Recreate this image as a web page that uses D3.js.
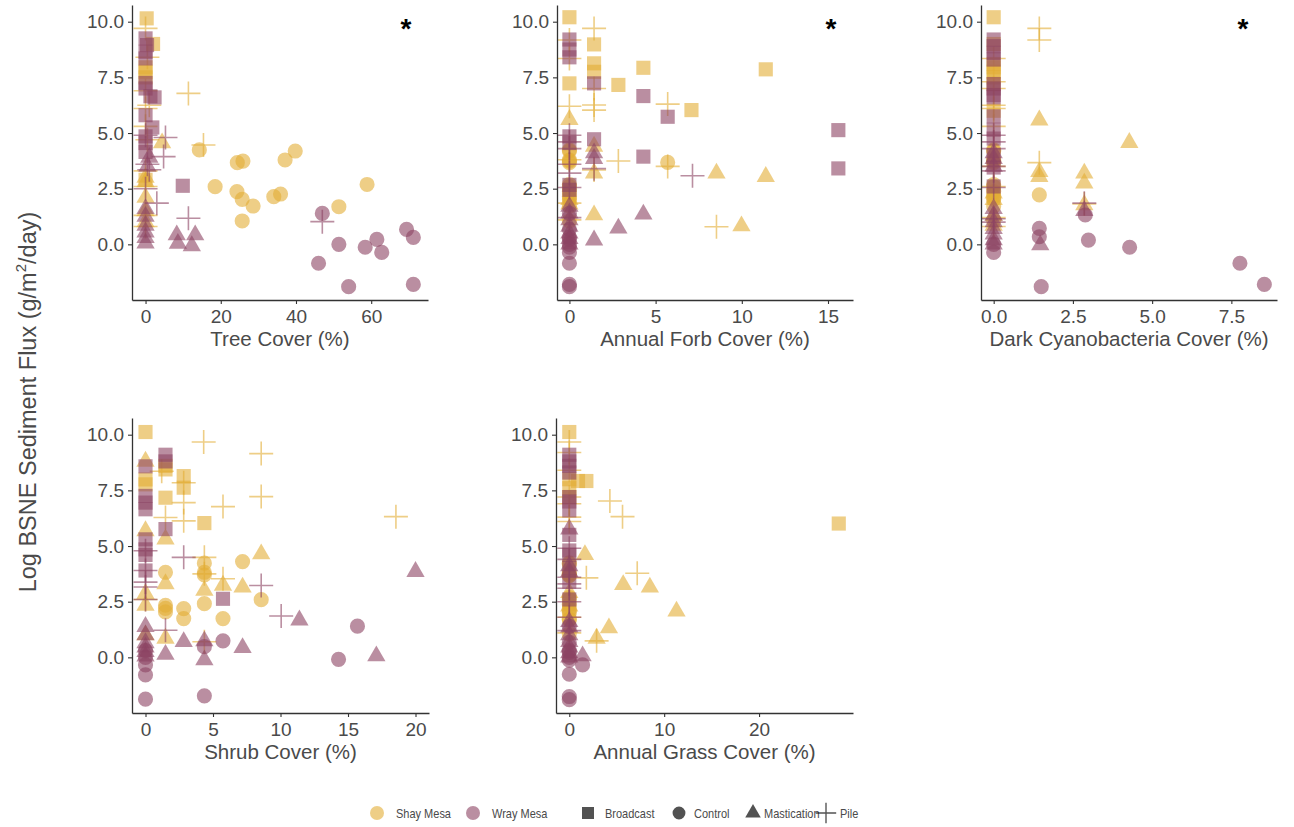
<!DOCTYPE html>
<html>
<head>
<meta charset="utf-8">
<script src="https://cdn.jsdelivr.net/npm/d3@7"></script>
<style>
  body { margin: 0; background: #fff; }
  svg { display: block; font-family: "Liberation Sans", Arial, sans-serif; }
</style>
</head>
<body>
<svg id="chart" width="1294" height="827"></svg>
<script>
// Each record: [cover %, log BSNE sediment flux, site (S = Shay Mesa, W = Wray Mesa), treatment]
// Treatment codes: B = Broadcast, C = Control, M = Mastication, P = Pile

const treeCover = [
  [0.3,10.15,"S","B"],[2.0,9.0,"S","B"],[0,7.95,"S","B"],[0,7.75,"S","B"],[0,7.5,"S","B"],[0,2.9,"S","B"],
  [0,9.7,"S","P"],[0.5,8.4,"S","P"],[0,6.9,"S","P"],[1,6.25,"S","P"],[0,6.1,"S","P"],[0,5.3,"S","P"],[0.5,4.7,"S","P"],
  [0,3.3,"S","P"],[0,2.6,"S","P"],[0,1.3,"S","P"],[0,0.8,"S","P"],[11.4,6.78,"S","P"],[15.4,4.46,"S","P"],
  [4.4,4.55,"S","M"],[0,3.0,"S","M"],[0,2.8,"S","M"],[0,2.1,"S","M"],[0,1.5,"S","M"],[0,1.0,"S","M"],
  [14.3,4.24,"S","C"],[18.5,2.59,"S","C"],[24.4,3.67,"S","C"],[25.9,3.74,"S","C"],[24.3,2.37,"S","C"],
  [25.7,2.02,"S","C"],[28.6,1.72,"S","C"],[25.7,1.05,"S","C"],[34.1,2.14,"S","C"],[35.9,2.26,"S","C"],
  [37.1,3.79,"S","C"],[39.8,4.19,"S","C"],[58.9,2.69,"S","C"],[51.4,1.69,"S","C"],
  [0,9.25,"W","B"],[0.4,8.95,"W","B"],[0,8.65,"W","B"],[0,8.35,"W","B"],[0,7.25,"W","B"],[0,7.0,"W","B"],
  [1.3,6.65,"W","B"],[2.4,6.6,"W","B"],[0,5.8,"W","B"],[1.8,5.25,"W","B"],[0,4.85,"W","B"],[0,4.55,"W","B"],
  [0,4.15,"W","B"],[9.9,2.63,"W","B"],
  [0,4.9,"W","P"],[0.5,3.6,"W","P"],[1,3.35,"W","P"],[0,2.5,"W","P"],[3,1.85,"W","P"],[5.3,4.8,"W","P"],
  [4.8,3.94,"W","P"],[11.4,1.17,"W","P"],[47,1.02,"W","P"],
  [1,3.9,"W","M"],[0.5,3.5,"W","M"],[0,1.6,"W","M"],[0,1.25,"W","M"],[0,0.85,"W","M"],[0,0.55,"W","M"],
  [0,0.3,"W","M"],[0,0.05,"W","M"],[8.3,0.42,"W","M"],[8.6,0.04,"W","M"],[13.2,0.42,"W","M"],[12.3,-0.07,"W","M"],
  [47.0,1.39,"W","C"],[46.0,-0.85,"W","C"],[51.4,0.0,"W","C"],[54.0,-1.9,"W","C"],[58.4,-0.13,"W","C"],
  [61.5,0.22,"W","C"],[62.8,-0.36,"W","C"],[69.4,0.67,"W","C"],[71.2,0.31,"W","C"],[71.2,-1.8,"W","C"]
];

const forbCover = [
  [0,10.2,"S","B"],[1.43,8.98,"S","B"],[1.43,8.13,"S","B"],[1.43,7.75,"S","B"],[2.84,7.16,"S","B"],
  [4.29,7.93,"S","B"],[7.08,6.03,"S","B"],[11.39,7.86,"S","B"],[0,7.23,"S","B"],[0,2.2,"S","B"],
  [1.43,9.7,"S","P"],[0,9.18,"S","P"],[0,8.35,"S","P"],[1.43,7.0,"S","P"],[1.43,6.26,"S","P"],[1.43,6.03,"S","P"],
  [0,6.2,"S","P"],[5.7,6.3,"S","P"],[2.84,3.74,"S","P"],[5.7,3.5,"S","P"],[1.43,3.34,"S","P"],[8.53,0.79,"S","P"],
  [0,3.8,"S","P"],[0,1.85,"S","P"],[0,1.1,"S","P"],
  [0,5.6,"S","M"],[1.43,4.4,"S","M"],[1.43,3.2,"S","M"],[8.53,3.19,"S","M"],[11.39,3.04,"S","M"],
  [1.43,1.32,"S","M"],[9.98,0.82,"S","M"],[0,2.0,"S","M"],[0,1.8,"S","M"],
  [5.7,3.68,"S","C"],[0,4.24,"S","C"],[0,4.19,"S","C"],[0,3.79,"S","C"],[0,3.74,"S","C"],[0,3.67,"S","C"],
  [0,2.69,"S","C"],[0,2.59,"S","C"],[0,2.37,"S","C"],[0,2.14,"S","C"],[0,2.02,"S","C"],[0,1.72,"S","C"],[0,1.05,"S","C"],
  [0,9.2,"W","B"],[0,8.75,"W","B"],[0,8.4,"W","B"],[1.43,7.23,"W","B"],[4.29,6.66,"W","B"],[5.7,5.73,"W","B"],
  [15.6,5.13,"W","B"],[15.6,3.41,"W","B"],[1.43,4.72,"W","B"],[4.29,3.94,"W","B"],[0,4.85,"W","B"],
  [0,4.55,"W","B"],[0,2.67,"W","B"],[0,2.45,"W","B"],
  [0,4.9,"W","P"],[0,4.6,"W","P"],[0,4.3,"W","P"],[0,3.6,"W","P"],[0,3.2,"W","P"],[1.43,3.4,"W","P"],
  [7.14,3.08,"W","P"],[0,2.55,"W","P"],[0,1.2,"W","P"],
  [1.43,4.1,"W","M"],[1.43,3.85,"W","M"],[2.84,0.72,"W","M"],[4.29,1.35,"W","M"],[1.43,0.19,"W","M"],
  [0,1.7,"W","M"],[0,1.4,"W","M"],[0,1.1,"W","M"],[0,0.8,"W","M"],[0,0.5,"W","M"],[0,0.25,"W","M"],[0,0.0,"W","M"],
  [0,1.39,"W","C"],[0,0.67,"W","C"],[0,0.31,"W","C"],[0,0.22,"W","C"],[0,0.0,"W","C"],[0,-0.13,"W","C"],
  [0,-0.36,"W","C"],[0,-0.85,"W","C"],[0,-1.8,"W","C"],[0,-1.9,"W","C"]
];

const cyanoCover = [
  [0,10.2,"S","B"],[0,9.0,"S","B"],[0,8.1,"S","B"],[0,7.95,"S","B"],[0,7.75,"S","B"],[0,7.5,"S","B"],
  [0,7.2,"S","B"],[0,6.0,"S","B"],[0,2.2,"S","B"],
  [1.44,9.7,"S","P"],[1.44,9.18,"S","P"],[0,8.35,"S","P"],[0,7.3,"S","P"],[0,7.0,"S","P"],[0,6.25,"S","P"],
  [0,6.1,"S","P"],[0,5.3,"S","P"],[1.44,3.67,"S","P"],[0,3.5,"S","P"],[0,2.6,"S","P"],[2.86,1.81,"S","P"],
  [0,1.2,"S","P"],[0,0.8,"S","P"],
  [1.44,5.58,"S","M"],[4.28,4.57,"S","M"],[1.44,3.26,"S","M"],[1.44,3.04,"S","M"],[2.86,3.19,"S","M"],
  [2.86,2.74,"S","M"],[2.86,1.77,"S","M"],[0,2.3,"S","M"],[0,2.0,"S","M"],[0,1.3,"S","M"],[0,0.85,"S","M"],
  [1.44,2.22,"S","C"],[0,4.24,"S","C"],[0,4.19,"S","C"],[0,3.79,"S","C"],[0,3.74,"S","C"],[0,3.67,"S","C"],
  [0,2.69,"S","C"],[0,2.59,"S","C"],[0,2.37,"S","C"],[0,2.14,"S","C"],[0,2.02,"S","C"],[0,1.72,"S","C"],[0,1.05,"S","C"],
  [0,9.2,"W","B"],[0,8.9,"W","B"],[0,8.6,"W","B"],[0,8.3,"W","B"],[0,7.2,"W","B"],[0,7.0,"W","B"],[0,6.7,"W","B"],
  [0,6.6,"W","B"],[0,5.75,"W","B"],[0,5.15,"W","B"],[0,4.75,"W","B"],[0,4.0,"W","B"],[0,3.45,"W","B"],[0,2.6,"W","B"],
  [0,4.9,"W","P"],[0,4.6,"W","P"],[0,4.3,"W","P"],[0,3.5,"W","P"],[0,3.3,"W","P"],[0,2.55,"W","P"],
  [2.86,1.85,"W","P"],[0,1.15,"W","P"],[0,1.0,"W","P"],
  [0,4.1,"W","M"],[0,3.85,"W","M"],[0,3.5,"W","M"],[2.86,1.51,"W","M"],[1.47,-0.03,"W","M"],[0,1.6,"W","M"],
  [0,1.3,"W","M"],[0,1.0,"W","M"],[0,0.7,"W","M"],[0,0.45,"W","M"],[0,0.2,"W","M"],[0,0.0,"W","M"],
  [2.89,1.32,"W","C"],[1.44,0.72,"W","C"],[1.44,0.34,"W","C"],[2.99,0.19,"W","C"],[4.29,-0.13,"W","C"],
  [7.77,-0.85,"W","C"],[8.54,-1.8,"W","C"],[1.5,-1.9,"W","C"],[0,0.0,"W","C"],[0,-0.36,"W","C"]
];

const shrubCover = [
  [0,10.12,"S","B"],[0,7.99,"S","B"],[0,7.77,"S","B"],[1.48,8.44,"S","B"],[2.83,8.14,"S","B"],
  [2.83,7.62,"S","B"],[1.48,7.17,"S","B"],[4.36,6.03,"S","B"],[1.48,8.6,"S","B"],
  [4.31,9.67,"S","P"],[8.57,9.15,"S","P"],[8.57,7.22,"S","P"],[5.74,6.77,"S","P"],[18.55,6.32,"S","P"],
  [1.2,8.36,"S","P"],[2.83,7.84,"S","P"],[1.48,6.28,"S","P"],[2.83,6.95,"S","P"],[2.83,6.13,"S","P"],
  [4.36,4.49,"S","P"],[4.36,3.75,"S","P"],[5.74,3.53,"S","P"],[0,2.6,"S","P"],[4.36,0.7,"S","P"],
  [0,8.8,"S","M"],[0,5.68,"S","M"],[1.48,5.31,"S","M"],[8.57,4.64,"S","M"],[4.36,3.0,"S","M"],
  [5.74,3.23,"S","M"],[7.19,3.15,"S","M"],[1.48,3.3,"S","M"],[1.48,0.85,"S","M"],[0,2.86,"S","M"],
  [0,2.33,"S","M"],[0,1.0,"S","M"],
  [4.36,4.23,"S","C"],[4.36,3.82,"S","C"],[7.19,4.3,"S","C"],[8.57,2.59,"S","C"],[5.74,1.74,"S","C"],
  [1.48,3.82,"S","C"],[1.48,2.34,"S","C"],[1.48,2.04,"S","C"],[2.83,2.19,"S","C"],[2.83,1.74,"S","C"],
  [4.36,2.41,"S","C"],[1.48,2.2,"S","C"],[4.36,3.7,"S","C"],
  [1.48,9.1,"W","B"],[1.48,8.8,"W","B"],[0,8.58,"W","B"],[0,7.25,"W","B"],[0,6.95,"W","B"],[0,6.65,"W","B"],
  [1.48,5.76,"W","B"],[0,5.3,"W","B"],[0,4.85,"W","B"],[0,4.6,"W","B"],[0,3.9,"W","B"],[5.74,2.63,"W","B"],
  [2.83,4.49,"W","P"],[8.57,3.23,"W","P"],[1.48,1.22,"W","P"],[10.05,1.86,"W","P"],[0,4.79,"W","P"],
  [0,3.9,"W","P"],[0,3.38,"W","P"],[0,3.16,"W","P"],[0,2.6,"W","P"],
  [11.4,1.67,"W","M"],[20.0,3.85,"W","M"],[17.1,0.06,"W","M"],[2.83,0.7,"W","M"],[1.48,0.13,"W","M"],
  [7.19,0.43,"W","M"],[4.36,0.73,"W","M"],[4.36,-0.12,"W","M"],[0,1.38,"W","M"],[0,1.0,"W","M"],
  [0,0.65,"W","M"],[0,0.45,"W","M"],[0,0.25,"W","M"],[0,0.05,"W","M"],
  [15.7,1.4,"W","C"],[14.3,-0.09,"W","C"],[5.74,0.74,"W","C"],[4.36,0.48,"W","C"],[4.36,-1.73,"W","C"],
  [0,-0.34,"W","C"],[0,-0.79,"W","C"],[0,-1.88,"W","C"],[0,0.0,"W","C"],[0,0.3,"W","C"]
];

const grassCover = [
  [0,10.12,"S","B"],[0.92,7.92,"S","B"],[1.8,7.92,"S","B"],[28.4,6.01,"S","B"],[0,2.11,"S","B"],
  [0,7.6,"S","B"],[0,8.0,"S","B"],[0,7.2,"S","B"],
  [0,9.67,"S","P"],[0,9.2,"S","P"],[0,8.4,"S","P"],[0,7.2,"S","P"],[0,6.9,"S","P"],[0,6.3,"S","P"],
  [0,6.1,"S","P"],[4.28,7.02,"S","P"],[5.61,6.32,"S","P"],[1.8,3.57,"S","P"],[7.16,3.78,"S","P"],
  [2.88,0.74,"S","P"],[0,1.8,"S","P"],[0,1.1,"S","P"],
  [1.65,4.61,"S","M"],[5.68,3.26,"S","M"],[8.49,3.15,"S","M"],[11.3,2.07,"S","M"],[4.18,1.32,"S","M"],
  [2.88,0.85,"S","M"],[0,2.9,"S","M"],[0,2.3,"S","M"],
  [0,4.24,"S","C"],[0,4.19,"S","C"],[0,3.79,"S","C"],[0,3.74,"S","C"],[0,3.67,"S","C"],[0,3.68,"S","C"],
  [0,2.69,"S","C"],[0,2.59,"S","C"],[0,2.37,"S","C"],[0,2.14,"S","C"],[0,2.02,"S","C"],[0,1.72,"S","C"],
  [0,1.69,"S","C"],[0,1.05,"S","C"],
  [0,9.1,"W","B"],[0,8.8,"W","B"],[0,8.6,"W","B"],[0,8.3,"W","B"],[0,7.2,"W","B"],[0,7.0,"W","B"],
  [0,6.6,"W","B"],[0,5.5,"W","B"],[0,4.8,"W","B"],[0,4.6,"W","B"],[0,4.0,"W","B"],[0,3.4,"W","B"],[0,2.6,"W","B"],
  [0,4.9,"W","P"],[0,4.4,"W","P"],[0,3.6,"W","P"],[0,3.3,"W","P"],[0,3.1,"W","P"],[0,2.5,"W","P"],
  [0,1.8,"W","P"],[0,1.2,"W","P"],
  [0,5.76,"W","M"],[0,4.1,"W","M"],[0,3.85,"W","M"],[0,1.6,"W","M"],[0,1.35,"W","M"],[0,1.0,"W","M"],
  [0,0.7,"W","M"],[0,0.45,"W","M"],[0,0.2,"W","M"],[0,0.0,"W","M"],[1.4,0.06,"W","M"],
  [1.4,-0.34,"W","C"],[0,-0.76,"W","C"],[0,-1.76,"W","C"],[0,-1.9,"W","C"],[0,0.0,"W","C"],
  [0,0.3,"W","C"],[0,0.67,"W","C"],[0,1.39,"W","C"],[0,-0.13,"W","C"],[0,0.22,"W","C"]
];

const fluxTicks = [0, 2.5, 5, 7.5, 10];
const fluxDomain = [-2.5, 10.75];

const siteNames = { S: "Shay Mesa", W: "Wray Mesa" };
const treatmentNames = { B: "Broadcast", C: "Control", M: "Mastication", P: "Pile" };

const siteColor = { S: "#E3AE35", W: "#8C4262" };
const markOpacity = 0.6;
const axisColor = "#333";
const textColor = "#4a4a4a";

const svg = d3.select("#chart");

// Marker shapes
const shapePath = {
  B: d3.symbol(d3.symbolSquare, 200)(),
  C: d3.symbol(d3.symbolCircle, 180)(),
  M: d3.symbol(d3.symbolTriangle, 145)(),
  P: "M-12,0H12M0,-12V12"
};

function drawMark(sel, trt, color, opacity) {
  const p = sel.append("path").attr("d", shapePath[trt]);
  if (trt === "P") {
    p.attr("fill", "none").attr("stroke", color).attr("stroke-width", 1.6).attr("stroke-opacity", opacity);
  } else {
    p.attr("fill", color).attr("fill-opacity", opacity).attr("stroke", "none");
  }
  return p;
}

const panels = [
  { data: treeCover,  title: "Tree Cover (%)",               xDomain: [-3.6, 75.1],   xTicks: [0, 20, 40, 60],    fmt: d3.format("d"),   left: 132, right: 428,  top: 5,   bottom: 300, starX: 406 },
  { data: forbCover,  title: "Annual Forb Cover (%)",        xDomain: [-0.72, 16.45], xTicks: [0, 5, 10, 15],     fmt: d3.format("d"),   left: 557, right: 853,  top: 5,   bottom: 300, starX: 831 },
  { data: cyanoCover, title: "Dark Cyanobacteria Cover (%)", xDomain: [-0.4, 8.94],   xTicks: [0, 2.5, 5, 7.5],   fmt: d3.format(".1f"), left: 981, right: 1277, top: 5,   bottom: 300, starX: 1243 },
  { data: shrubCover, title: "Shrub Cover (%)",              xDomain: [-1, 21],       xTicks: [0, 5, 10, 15, 20], fmt: d3.format("d"),   left: 132, right: 429,  top: 418, bottom: 713, starX: null },
  { data: grassCover, title: "Annual Grass Cover (%)",       xDomain: [-1.4, 29.9],   xTicks: [0, 10, 20],        fmt: d3.format("d"),   left: 556, right: 853,  top: 418, bottom: 713, starX: null }
];

panels.forEach(pn => {
  const x = d3.scaleLinear().domain(pn.xDomain).range([pn.left, pn.right]);
  const y = d3.scaleLinear().domain(fluxDomain).range([pn.bottom, pn.top]);
  const g = svg.append("g");

  // points: Shay Mesa first, Wray Mesa drawn over it
  const pts = pn.data.slice().sort((a, b) => (a[2] === b[2] ? 0 : a[2] === "S" ? -1 : 1));
  const mg = g.append("g");
  pts.forEach(d => {
    drawMark(mg, d[3], siteColor[d[2]], markOpacity)
      .attr("transform", `translate(${x(d[0])},${y(d[1])})`);
  });

  const yAxis = g.append("g").attr("transform", `translate(${pn.left},0)`)
    .call(d3.axisLeft(y).tickValues(fluxTicks).tickFormat(d3.format(".1f")).tickSize(4).tickSizeOuter(0).tickPadding(4));
  const xAxis = g.append("g").attr("transform", `translate(0,${pn.bottom})`)
    .call(d3.axisBottom(x).tickValues(pn.xTicks).tickFormat(pn.fmt).tickSize(4).tickSizeOuter(0).tickPadding(6));

  [yAxis, xAxis].forEach(ax => {
    ax.select(".domain").attr("stroke", axisColor).attr("stroke-width", 1.3);
    ax.selectAll(".tick line").attr("stroke", axisColor).attr("stroke-width", 1.1);
    ax.selectAll(".tick text").attr("fill", textColor).style("font-size", "19px")
      .style("font-family", "'Liberation Sans', Arial, sans-serif");
  });

  g.append("text")
    .attr("x", (pn.left + pn.right) / 2)
    .attr("y", pn.bottom + 46)
    .attr("text-anchor", "middle")
    .attr("fill", textColor)
    .style("font-size", "20.5px")
    .text(pn.title);

  if (pn.starX !== null) {
    g.append("text")
      .attr("x", pn.starX)
      .attr("y", 38)
      .attr("text-anchor", "middle")
      .attr("fill", "#000")
      .style("font-weight", "bold")
      .style("font-size", "28px")
      .text("*");
  }
});

// Shared y-axis title
const yTitle = svg.append("text")
  .attr("transform", "translate(36,402) rotate(-90)")
  .attr("text-anchor", "middle")
  .attr("fill", textColor)
  .style("font-size", "23.5px");
yTitle.append("tspan").text("Log BSNE Sediment Flux (g/m");
yTitle.append("tspan").attr("dy", -10).style("font-size", "15px").text("2");
yTitle.append("tspan").attr("dy", 10).text("/day)");

// Legend
const legendY = 813;
const lg = svg.append("g").style("font-size", "12.5px").attr("fill", "#4a4a4a");
function legendLabel(xPos, label) {
  lg.append("text")
    .attr("transform", `translate(${xPos},${legendY + 4.5}) scale(0.88,1)`)
    .text(label);
}
const siteKeys = [["S", 377], ["W", 473]];
siteKeys.forEach(([k, cx]) => {
  lg.append("circle").attr("cx", cx).attr("cy", legendY).attr("r", 7)
    .attr("fill", siteColor[k]).attr("fill-opacity", markOpacity);
  legendLabel(cx + 19, siteNames[k]);
});
const trtKeys = [["B", 588, 605], ["C", 679, 694], ["M", 753, 764], ["P", 826, 840]];
trtKeys.forEach(([k, cx, tx]) => {
  drawMark(lg, k, "#000", 0.68).attr("transform", `translate(${cx},${legendY}) scale(0.85)`);
  legendLabel(tx, treatmentNames[k]);
});
</script>
</body>
</html>
